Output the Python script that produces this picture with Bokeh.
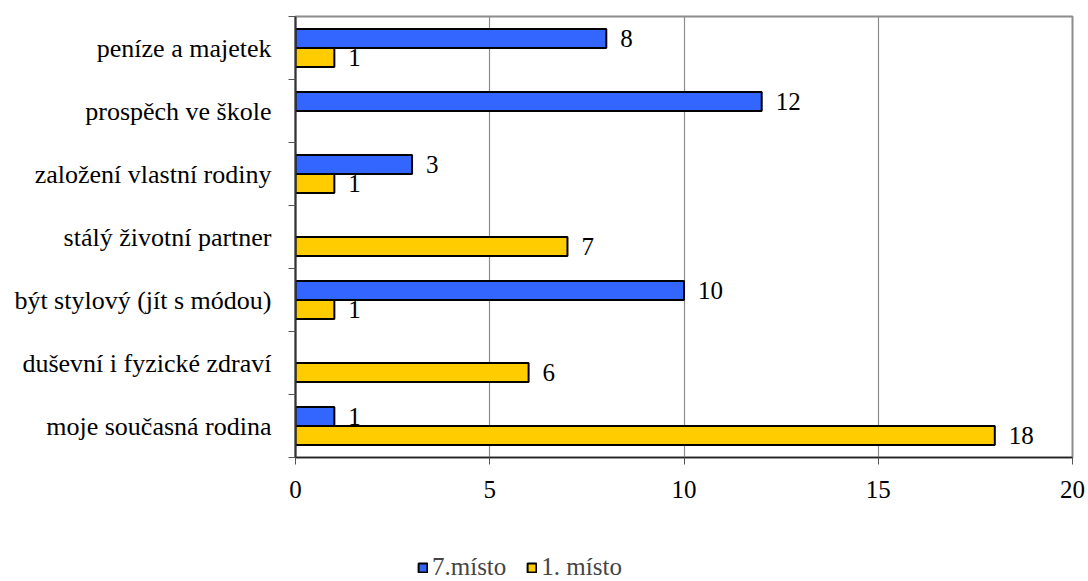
from bokeh.plotting import figure
from bokeh.layouts import column
from bokeh.io import curdoc
from bokeh.events import DocumentReady
from bokeh.models import ColumnDataSource, FixedTicker, Legend, LegendItem, Range1d, CustomJS
from bokeh.core.properties import value
from bokeh.embed import file_html
from bokeh.resources import INLINE

# Categories listed bottom to top
categories = [
    "moje současná rodina",
    "duševní i fyzické zdraví",
    "být stylový (jít s módou)",
    "stálý životní partner",
    "založení vlastní rodiny",
    "prospěch ve škole",
    "peníze a majetek",
]
place7 = [1, 0, 10, 0, 3, 12, 8]   # 7.místo
place1 = [18, 6, 1, 7, 1, 0, 1]    # 1. místo
series_names = ["7.místo", "1. místo"]
x_ticks = [0, 5, 10, 15, 20]

FONT = "Times New Roman"
BLUE = "#3366FF"
YELLOW = "#FFCC00"
BAR_H = 0.3


def series_source(vals, shift):
    idx = [i for i, v in enumerate(vals) if v > 0]
    return ColumnDataSource(dict(
        y=[i + shift for i in idx],
        v=[vals[i] for i in idx],
        lbl=[str(vals[i]) for i in idx],
    ))


src7 = series_source(place7, BAR_H / 2)
src1 = series_source(place1, -BAR_H / 2)

p = figure(width=1088, height=515, output_backend="svg", toolbar_location=None,
           x_range=Range1d(0, 20), y_range=Range1d(-0.5, len(categories) - 0.5),
           min_border_left=295, min_border_right=16, min_border_top=16,
           min_border_bottom=58)

p.hbar(y="y", right="v", left=0, height=BAR_H, source=src7,
       fill_color=BLUE, line_color="black", line_width=2)
p.hbar(y="y", right="v", left=0, height=BAR_H, source=src1,
       fill_color=YELLOW, line_color="black", line_width=2)

for src in (src7, src1):
    p.text(x="v", y="y", text="lbl", source=src, x_offset=14,
           text_baseline="middle", text_align="left",
           text_font=value(FONT), text_font_size="25px", text_color="black")

# frame and grid
p.outline_line_color = "#8c8c8c"
p.outline_line_width = 2
p.ygrid.grid_line_color = None
p.xgrid.ticker = FixedTicker(ticks=x_ticks)
p.xgrid.grid_line_color = "#8c8c8c"
p.xgrid.grid_line_width = 1.2

# x axis
xa = p.xaxis[0]
xa.ticker = FixedTicker(ticks=x_ticks)
xa.axis_line_color = "#222222"
xa.axis_line_width = 1.5
xa.major_tick_line_color = "#555555"
xa.major_tick_in = 0
xa.major_tick_out = 7
xa.minor_tick_line_color = None
xa.major_label_standoff = 16
xa.major_label_text_font = FONT
xa.major_label_text_font_size = "25px"
xa.major_label_text_color = "black"

# y axis: labels at category centres, ticks on category boundaries
ya = p.yaxis[0]
ya.ticker = FixedTicker(ticks=list(range(len(categories))),
                        minor_ticks=[i - 0.5 for i in range(len(categories) + 1)])
ya.major_label_overrides = {i: c for i, c in enumerate(categories)}
ya.axis_line_color = "#333333"
ya.axis_line_width = 2
ya.major_tick_line_color = None
ya.major_tick_out = 6
ya.minor_tick_line_color = "#555555"
ya.minor_tick_in = 0
ya.minor_tick_out = 7
ya.major_label_standoff = 17
ya.major_label_text_font = FONT
ya.major_label_text_font_size = "26px"
ya.major_label_text_color = "black"

# legend strip under the chart (frame aligned with the chart's frame)
lg = figure(width=1088, height=66, output_backend="svg", toolbar_location=None,
            x_range=Range1d(0, 1), y_range=Range1d(0, 1),
            min_border=0, outline_line_color=None)
lg.axis.visible = False
lg.grid.visible = False
hidden = dict(x=[-10], y=[-10])
k7 = lg.rect(x="x", y="y", width=1, height=1, source=ColumnDataSource(hidden),
             fill_color=BLUE, line_color="black", line_width=2)
k1 = lg.rect(x="x", y="y", width=1, height=1, source=ColumnDataSource(hidden),
             fill_color=YELLOW, line_color="black", line_width=2)
legend = Legend(items=[LegendItem(label=series_names[0], renderers=[k7]),
                       LegendItem(label=series_names[1], renderers=[k1])],
                orientation="horizontal", location=(122, 0),
                label_text_font=FONT, label_text_font_size="25px",
                glyph_width=11, glyph_height=11, label_standoff=4, spacing=20,
                padding=0, border_line_color=None, background_fill_alpha=0)
lg.add_layout(legend, "center")

layout = column(p, lg, spacing=0)

# repaint once the serif face is available so every text uses it
doc = curdoc()
doc.add_root(layout)
doc.js_on_event(DocumentReady, CustomJS(args=dict(figs=[p, lg]), code="""
const repaint = () => {
  for (const f of figs) {
    f.background_fill_alpha = f.background_fill_alpha === 1 ? 0.999 : 1
  }
}
document.fonts.load("25px 'Times New Roman'").finally(() => setTimeout(repaint, 30))
setTimeout(repaint, 200)
setTimeout(repaint, 500)
"""))

open("out.html", "w").write(file_html(layout, INLINE))
